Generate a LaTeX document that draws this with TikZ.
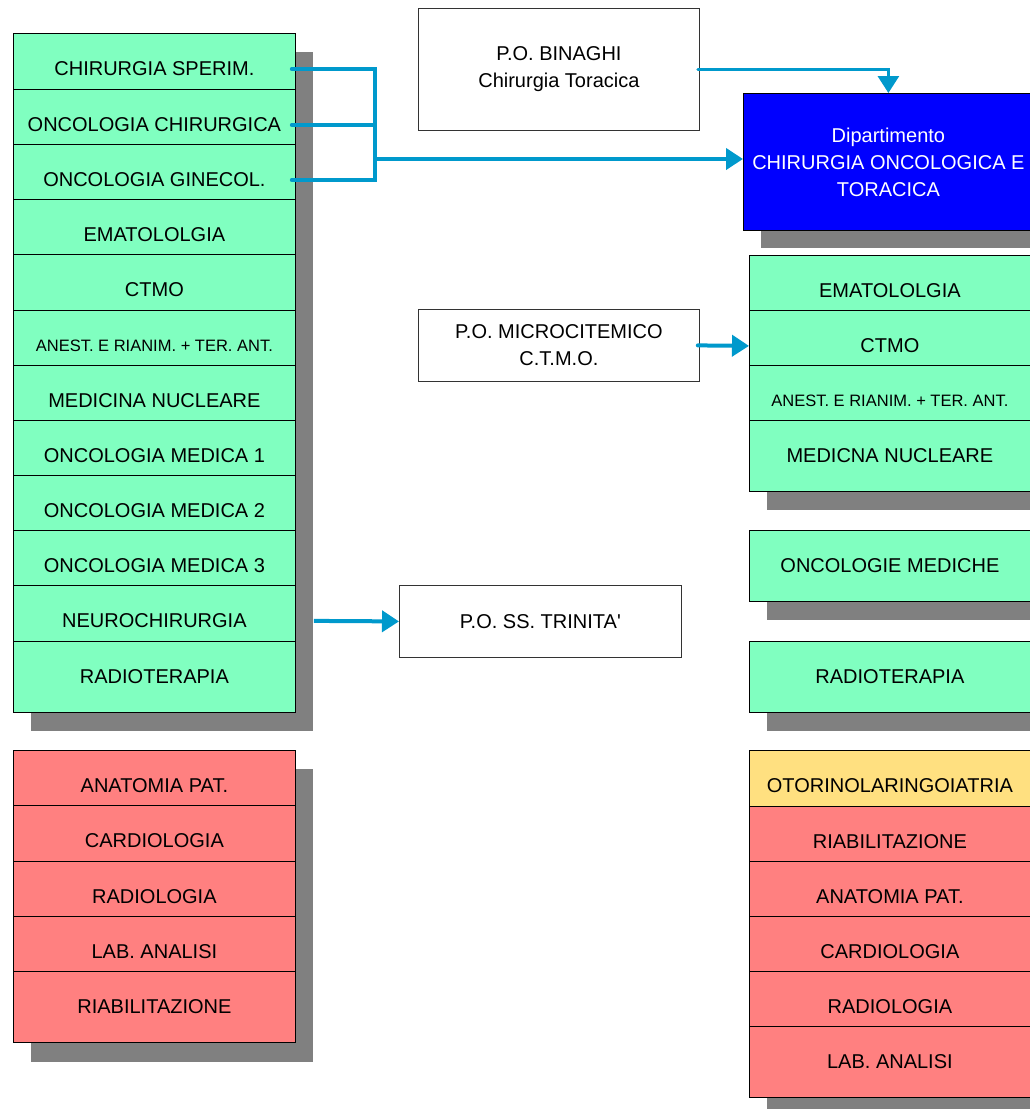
\documentclass[tikz,border=0pt]{standalone}
\usepackage{fontspec}
\setmainfont{Liberation Sans}
\usetikzlibrary{arrows.meta}
\definecolor{cellgreen}{RGB}{128,255,192}
\definecolor{cellred}{RGB}{255,128,128}
\definecolor{cellyellow}{RGB}{255,224,128}
\definecolor{deptblue}{RGB}{0,0,255}
\definecolor{shade}{RGB}{128,128,128}
\definecolor{linkblue}{RGB}{0,153,204}

\begin{document}
\begin{tikzpicture}[x=1pt,y=-1pt,
  cell/.style={draw=black, line width=0.8pt, anchor=north west,
    minimum width=282pt, minimum height=71pt, inner sep=0pt,
    font=\fontsize{20}{27}\selectfont, align=center},
  green/.style={cell, fill=cellgreen},
  red/.style={cell, fill=cellred},
  small/.style={font=\fontsize{16.5}{19}\selectfont},
  site/.style={draw=black!80, line width=0.8pt, fill=white, anchor=north west,
    minimum width=281pt, inner sep=0pt,
    font=\fontsize{20}{27}\selectfont, align=center},
  shadow/.style={fill=shade},
  flow/.style={draw=linkblue, line width=4pt, line cap=round},
  tip/.style={-{Triangle[length=17pt,width=21pt]}}
]
\useasboundingbox (0,0) rectangle (1030,1109);
\fill[white] (0,0) rectangle (1030,1109);

% drop shadows behind each group of cells
\fill[shadow] (31,52) rectangle (313,731);
\fill[shadow] (31,769) rectangle (313,1062);
\fill[shadow] (761,111) rectangle (1051,248);
\fill[shadow] (767,274) rectangle (1048,510);
\fill[shadow] (767,549) rectangle (1048,620);
\fill[shadow] (767,660) rectangle (1048,731);
\fill[shadow] (767,769) rectangle (1048,1116);

% left column: units of the current structure
\node[green] (l1)  at (13,33)  {CHIRURGIA SPERIM.};
\node[green] (l2)  at (13,89)  {ONCOLOGIA CHIRURGICA};
\node[green] (l3)  at (13,144) {ONCOLOGIA GINECOL.};
\node[green] (l4)  at (13,199) {EMATOLOLGIA};
\node[green] (l5)  at (13,254) {CTMO};
\node[green,small] (l6) at (13,310) {ANEST. E RIANIM. + TER. ANT.};
\node[green] (l7)  at (13,365) {MEDICINA NUCLEARE};
\node[green] (l8)  at (13,420) {ONCOLOGIA MEDICA 1};
\node[green] (l9)  at (13,475) {ONCOLOGIA MEDICA 2};
\node[green] (l10) at (13,530) {ONCOLOGIA MEDICA 3};
\node[green] (l11) at (13,585) {NEUROCHIRURGIA};
\node[green] (l12) at (13,641) {RADIOTERAPIA};

\node[red] (s1) at (13,750) {ANATOMIA PAT.};
\node[red] (s2) at (13,805) {CARDIOLOGIA};
\node[red] (s3) at (13,861) {RADIOLOGIA};
\node[red] (s4) at (13,916) {LAB. ANALISI};
\node[red] (s5) at (13,971) {RIABILITAZIONE};

% hospital sites
\node[site, minimum height=122pt] (binaghi) at (418,8) {P.O. BINAGHI\\Chirurgia Toracica};
\node[site, minimum height=72pt] (micro) at (418,309) {P.O. MICROCITEMICO\\C.T.M.O.};
\node[site, minimum height=72pt, minimum width=282pt] (trinita) at (399,585) {P.O. SS. TRINITA\textquotesingle};

% department
\node[cell, fill=deptblue, text=white, minimum width=290pt, minimum height=137pt] (dept) at (743,93)
  {Dipartimento\\CHIRURGIA ONCOLOGICA E\\TORACICA};

% right column: units of the new structure
\node[green, minimum width=281pt] (r1) at (749,255) {EMATOLOLGIA};
\node[green, minimum width=281pt] (r2) at (749,310) {CTMO};
\node[green, small, minimum width=281pt] (r3) at (749,365) {ANEST. E RIANIM. + TER. ANT.};
\node[green, minimum width=281pt] (r4) at (749,420) {MEDICNA NUCLEARE};
\node[green, minimum width=281pt] (r5) at (749,530) {ONCOLOGIE MEDICHE};
\node[green, minimum width=281pt] (r6) at (749,641) {RADIOTERAPIA};

\node[cell, fill=cellyellow, minimum width=281pt] (t1) at (749,750) {OTORINOLARINGOIATRIA};
\node[red, minimum width=281pt] (t2) at (749,806) {RIABILITAZIONE};
\node[red, minimum width=281pt] (t3) at (749,861) {ANATOMIA PAT.};
\node[red, minimum width=281pt] (t4) at (749,916) {CARDIOLOGIA};
\node[red, minimum width=281pt] (t5) at (749,971) {RADIOLOGIA};
\node[red, minimum width=281pt] (t6) at (749,1026) {LAB. ANALISI};

% connectors
\coordinate (join) at (375,159);
\draw[flow] ([xshift=-4pt]l1.east) -| (join);
\draw[flow] ([xshift=-4pt]l2.east) -| (join);
\draw[flow] ([xshift=-4pt]l3.east) -| (join);
\draw[flow, line cap=butt, tip] (join) -- (join -| dept.west);

\draw[flow, line width=3pt, tip] ([xshift=-2pt]binaghi.east) -| (dept.north);
\draw[flow, tip] ([xshift=-2pt]micro.east) -- (r2.west);
\draw[flow, line cap=butt, tip] ([xshift=18pt]l11.east) -- (trinita.west);
\end{tikzpicture}
\end{document}
